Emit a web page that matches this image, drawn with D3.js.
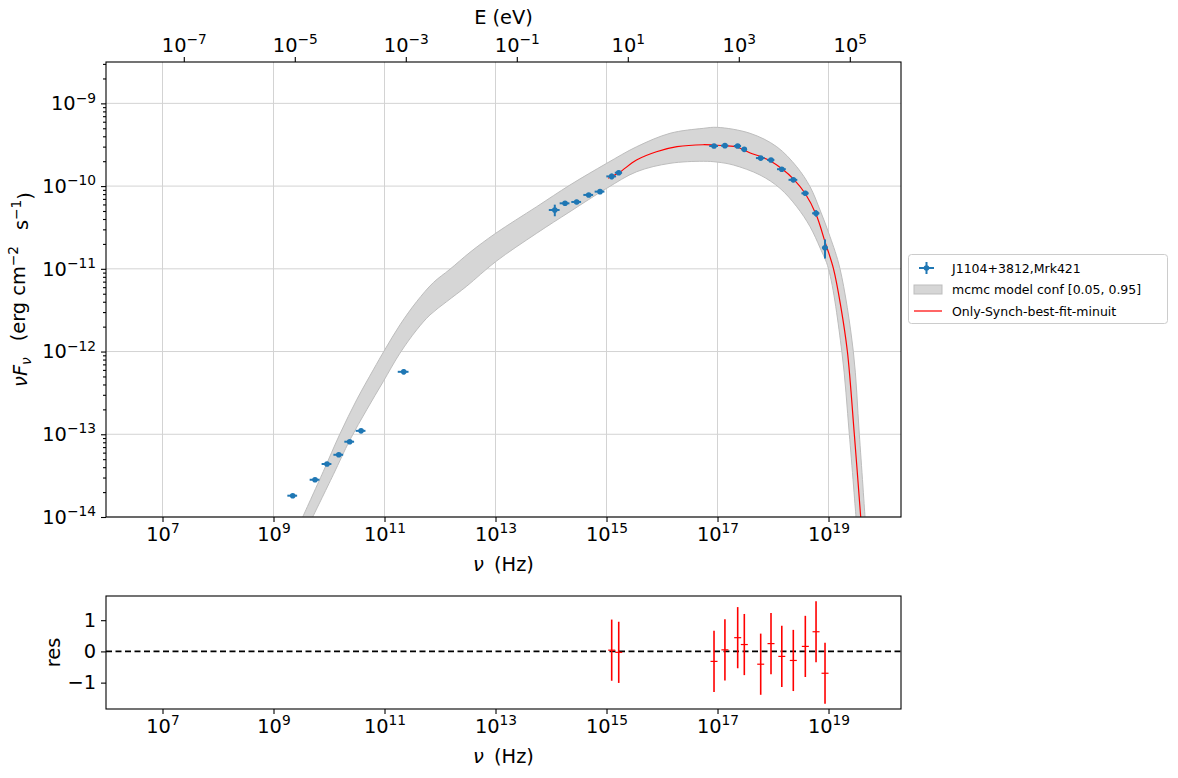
<!DOCTYPE html>
<html><head><meta charset="utf-8">
<script src="https://cdn.jsdelivr.net/npm/d3@7"></script>
<style>body{margin:0;background:#fff} text{font-family:"DejaVu Sans",sans-serif}</style>
</head><body>
<svg id="c" width="1178" height="778"></svg>
<script>
// ---------- data ----------
const dataNu   = [2.22e9,5.60e9,9.20e9,1.50e10,2.36e10,3.78e10,2.22e11,
                  1.17e14,1.79e14,2.90e14,4.78e14,7.64e14,1.24e15,1.66e15,
                  8.65e16,1.36e17,2.31e17,3.04e17,6.00e17,9.20e17,1.44e18,2.32e18,3.82e18,5.96e18,8.65e18];
const dataFlux = [1.81e-14,2.82e-14,4.37e-14,5.65e-14,8.13e-14,1.10e-13,5.69e-13,
                  5.14e-11,6.19e-11,6.43e-11,7.82e-11,8.57e-11,1.31e-10,1.45e-10,
                  3.05e-10,3.08e-10,3.05e-10,2.78e-10,2.18e-10,2.07e-10,1.60e-10,1.19e-10,8.18e-11,4.69e-11,1.80e-11];
const dataNuErrFrac   = [0.2,0.2,0.2,0.2,0.2,0.2,0.22,
                         0.22,0.2,0.2,0.2,0.2,0.2,0.15,
                         0.18,0.15,0.15,0.12,0.18,0.15,0.18,0.18,0.15,0.15,0.12];
const dataFluxErrFrac = [0.05,0.05,0.05,0.05,0.05,0.05,0.07,
                         0.16,0.06,0.06,0.05,0.05,0.08,0.06,
                         0.04,0.05,0.04,0.04,0.05,0.05,0.05,0.06,0.07,0.09,0.26];

// best-fit model (log10 nu, log10 nuFnu)
const modelLogNu = [15.03,15.22,15.54,15.90,16.27,16.74,16.94,17.14,17.36,17.48,17.59,17.78,17.96,18.16,18.37,18.58,18.78,18.94,19.09,19.22,19.34,19.465,19.58];
const modelLogF  = [-9.906,-9.84,-9.685,-9.585,-9.524,-9.500,-9.505,-9.512,-9.53,-9.565,-9.60,-9.645,-9.70,-9.79,-9.915,-10.09,-10.35,-10.68,-11.0,-11.45,-12.0,-13.0,-14.0];

// mcmc confidence band edges
const bandUpLogNu = [9.526,9.897,10.198,10.499,10.798,11.004,11.279,11.580,11.879,12.180,12.541,13.004,13.742,14.342,15.003,15.544,16.144,16.744,16.997,17.586,18.067,18.427,18.667,18.847,19.027,19.207,19.447,19.555,19.658];
const bandUpLogF  = [-14.0,-13.45,-12.994,-12.583,-12.221,-11.98,-11.677,-11.396,-11.167,-11.005,-10.80,-10.57,-10.249,-9.987,-9.725,-9.524,-9.362,-9.302,-9.29,-9.362,-9.524,-9.766,-10.007,-10.289,-10.611,-11.0,-12.0,-13.0,-14.0];
const bandLoLogNu = [9.706,10.077,10.378,10.679,10.978,11.279,11.580,11.820,12.121,12.481,13.004,13.742,14.342,15.003,15.544,16.144,16.744,16.997,17.285,17.766,18.126,18.427,18.667,18.85,19.0,19.24,19.375,19.495];
const bandLoLogF  = [-14.0,-13.489,-13.067,-12.704,-12.362,-12.019,-11.738,-11.557,-11.396,-11.21,-10.913,-10.57,-10.309,-10.027,-9.826,-9.725,-9.70,-9.71,-9.745,-9.866,-10.027,-10.249,-10.49,-10.75,-11.0,-12.0,-13.0,-14.0];

// residuals
const resNu  = [1.24e15,1.66e15,8.65e16,1.36e17,2.31e17,3.04e17,6.00e17,9.20e17,1.44e18,2.32e18,3.82e18,5.96e18,8.65e18];
const resVal = [0.04,-0.03,-0.32,0.05,0.44,0.22,-0.41,0.25,-0.16,-0.29,0.16,0.63,-0.70];
const resErr = [0.98,0.98,0.98,0.98,0.98,0.98,0.98,0.98,0.98,0.98,0.98,0.98,0.98];

const nuTicks = [1e7,1e9,1e11,1e13,1e15,1e17,1e19];
const eTicks  = [1e-7,1e-5,1e-3,1e-1,1e1,1e3,1e5];
const fluxTicks = [1e-14,1e-13,1e-12,1e-11,1e-10,1e-9];
const resTicks = [-1,0,1];
const legendLabels = ["J1104+3812,Mrk421","mcmc model conf [0.05, 0.95]","Only-Synch-best-fit-minuit"];
const hPlanck = 4.135667e-15; // eV s

// ---------- layout ----------
const L = 106, R = 901, T = 62, B = 517;
const RT = 596, RB = 709;
const FS = 19.4;
const blue = "#1f77b4";

const svg = d3.select("#c");
const x = d3.scaleLog().domain([Math.pow(10,5.982), Math.pow(10,20.306)]).range([L,R]);
const xE = d3.scaleLog().domain(x.domain().map(v => v*hPlanck)).range([L,R]);
const y = d3.scaleLog().domain([1e-14, Math.pow(10,-8.5)]).range([B,T]);
const yr = d3.scaleLinear().domain([-1.845,1.775]).range([RB,RT]);

function supLabel(sel, v) {
  const e = Math.round(Math.log10(v));
  sel.text(null);
  sel.append("tspan").text("10");
  sel.append("tspan").attr("dy","-0.55em").attr("font-size","0.71em").text(String(e).replace("-","\u2212"));
}

svg.append("defs").append("clipPath").attr("id","clipMain")
  .append("rect").attr("x",L).attr("y",T).attr("width",R-L).attr("height",B-T);

// grid
const grid = svg.append("g");
nuTicks.forEach(v => grid.append("line").attr("x1",x(v)).attr("x2",x(v)).attr("y1",T).attr("y2",B)
  .attr("stroke","#d3d3d3").attr("stroke-width",1));
fluxTicks.forEach(v => grid.append("line").attr("x1",L).attr("x2",R).attr("y1",y(v)).attr("y2",y(v))
  .attr("stroke","#d3d3d3").attr("stroke-width",1));

const main = svg.append("g").attr("clip-path","url(#clipMain)");

// band
const up = bandUpLogNu.map((v,i)=>[x(Math.pow(10,v)), y(Math.pow(10,bandUpLogF[i]))]);
const lo = bandLoLogNu.map((v,i)=>[x(Math.pow(10,v)), y(Math.pow(10,bandLoLogF[i]))]);
const lineGen = d3.line().curve(d3.curveCatmullRom.alpha(0.5));
main.append("path").attr("d", lineGen(up) + "L" + lineGen(lo.slice().reverse()).slice(1) + "Z")
  .attr("fill","#d6d6d6").attr("stroke","none");
main.append("path").attr("d", lineGen(up)).attr("fill","none").attr("stroke","#bdbdbd").attr("stroke-width",1);
main.append("path").attr("d", lineGen(lo)).attr("fill","none").attr("stroke","#bdbdbd").attr("stroke-width",1);

// model
const mpts = modelLogNu.map((v,i)=>[x(Math.pow(10,v)), y(Math.pow(10,modelLogF[i]))]);
main.append("path").attr("d", lineGen(mpts)).attr("fill","none").attr("stroke","red").attr("stroke-width",1.2);

// data
const dg = main.append("g");
dataNu.forEach((nu,i) => {
  const F = dataFlux[i], xe = dataNuErrFrac[i], ye = dataFluxErrFrac[i];
  dg.append("line").attr("x1",x(nu*(1-xe))).attr("x2",x(nu*(1+xe))).attr("y1",y(F)).attr("y2",y(F))
    .attr("stroke",blue).attr("stroke-width",2);
  dg.append("line").attr("x1",x(nu)).attr("x2",x(nu)).attr("y1",y(F*(1-ye))).attr("y2",y(F*(1+ye)))
    .attr("stroke",blue).attr("stroke-width",2);
  dg.append("circle").attr("cx",x(nu)).attr("cy",y(F)).attr("r",2.8).attr("fill",blue);
});

// frame
svg.append("rect").attr("x",L).attr("y",T).attr("width",R-L).attr("height",B-T)
  .attr("fill","none").attr("stroke","#000").attr("stroke-width",1.1);

// axes main
const axB = svg.append("g").attr("transform",`translate(0,${B})`)
  .call(d3.axisBottom(x).tickValues(nuTicks).tickSize(5).tickPadding(5));
const axT = svg.append("g").attr("transform",`translate(0,${T})`)
  .call(d3.axisTop(xE).tickValues(eTicks).tickSize(5).tickPadding(5));
const minorF = [];
for (let e=-14; e<=-9; e++) for (let m=2; m<=9; m++) { const v = m*Math.pow(10,e); if (v<=y.domain()[1]) minorF.push(v); }
const axL = svg.append("g").attr("transform",`translate(${L},0)`)
  .call(d3.axisLeft(y).tickValues(fluxTicks).tickSize(5).tickPadding(5));
svg.append("g").attr("transform",`translate(${L},0)`)
  .call(d3.axisLeft(y).tickValues(minorF).tickSize(3).tickFormat(""))
  .call(g=>g.select(".domain").remove());
[axB,axT,axL].forEach(g => {
  g.select(".domain").remove();
  g.selectAll("line").attr("stroke","#000").attr("stroke-width",1.1);
  g.selectAll("text").attr("font-size",FS).attr("fill","#000").attr("font-family","DejaVu Sans").each(function(d){ supLabel(d3.select(this), d); });
});
svg.selectAll(".tick line").attr("stroke","#000");

// axis labels main
svg.append("text").attr("x",(L+R)/2).attr("y",18).attr("text-anchor","middle").attr("dominant-baseline","middle")
  .attr("font-size",FS).text("E (eV)");
function nuLabel(yy) {
  const t = svg.append("text").attr("x",(L+R)/2).attr("y",yy).attr("text-anchor","middle").attr("font-size",FS);
  t.append("tspan").attr("font-style","italic").text("\u03BD");
  t.append("tspan").text("\u2009 (Hz)");
}
nuLabel(571);
const yl = svg.append("text").attr("transform",`translate(27,${(T+B)/2}) rotate(-90)`).attr("text-anchor","middle").attr("font-size",FS);
yl.append("tspan").attr("font-style","italic").text("\u03BDF");
yl.append("tspan").attr("font-style","italic").attr("font-size","0.71em").attr("dy","0.3em").text("\u03BD");
yl.append("tspan").attr("dy","-0.3em").text("\u2002 (erg cm");
yl.append("tspan").attr("font-size","0.71em").attr("dy","-0.55em").text("\u22122");
yl.append("tspan").attr("dy","0.55em").text("\u2002 s");
yl.append("tspan").attr("font-size","0.71em").attr("dy","-0.55em").text("\u22121");
yl.append("tspan").attr("dy","0.55em").text(")");

// ---------- residual panel ----------
svg.append("line").attr("x1",L).attr("x2",R).attr("y1",yr(0)).attr("y2",yr(0))
  .attr("stroke","#000").attr("stroke-width",1.6).attr("stroke-dasharray","6,3.5");
const rg = svg.append("g");
resNu.forEach((nu,i) => {
  const v = resVal[i], e = resErr[i];
  rg.append("line").attr("x1",x(nu)).attr("x2",x(nu)).attr("y1",yr(v-e)).attr("y2",yr(v+e))
    .attr("stroke","red").attr("stroke-width",1.6);
  rg.append("line").attr("x1",x(nu)-3.5).attr("x2",x(nu)+3.5).attr("y1",yr(v)).attr("y2",yr(v))
    .attr("stroke","red").attr("stroke-width",1.2);
});
svg.append("rect").attr("x",L).attr("y",RT).attr("width",R-L).attr("height",RB-RT)
  .attr("fill","none").attr("stroke","#000").attr("stroke-width",1.1);
const rB = svg.append("g").attr("transform",`translate(0,${RB})`)
  .call(d3.axisBottom(x).tickValues(nuTicks).tickSize(5).tickPadding(5));
rB.select(".domain").remove();
rB.selectAll("text").attr("font-size",FS).attr("fill","#000").each(function(d){ supLabel(d3.select(this), d); });
const rL = svg.append("g").attr("transform",`translate(${L},0)`)
  .call(d3.axisLeft(yr).tickValues(resTicks).tickSize(5).tickPadding(5).tickFormat(d=>String(d).replace("-","\u2212")));
rL.select(".domain").remove();
rL.selectAll("text").attr("font-size",FS).attr("fill","#000");
svg.selectAll(".tick line").attr("stroke","#000").attr("stroke-width",1.1);
nuLabel(763);
svg.append("text").attr("transform",`translate(60,${(RT+RB)/2}) rotate(-90)`).attr("text-anchor","middle")
  .attr("font-size",FS).text("res");

// ---------- legend ----------
const lg = svg.append("g");
lg.append("rect").attr("x",908.5).attr("y",254.5).attr("width",259).attr("height",69).attr("rx",3)
  .attr("fill","#fff").attr("stroke","#cccccc").attr("stroke-width",1);
const lfs = 12.5, lx = 914, rowY = [268, 289.5, 311];
lg.append("line").attr("x1",lx+5).attr("x2",lx+20).attr("y1",rowY[0]).attr("y2",rowY[0]).attr("stroke",blue).attr("stroke-width",2);
lg.append("line").attr("x1",lx+12.5).attr("x2",lx+12.5).attr("y1",rowY[0]-6).attr("y2",rowY[0]+6).attr("stroke",blue).attr("stroke-width",2);
lg.append("circle").attr("cx",lx+12.5).attr("cy",rowY[0]).attr("r",2.8).attr("fill",blue);
lg.append("rect").attr("x",lx).attr("y",rowY[1]-4.5).attr("width",28).attr("height",9).attr("fill","#d6d6d6").attr("stroke","#bdbdbd");
lg.append("line").attr("x1",lx).attr("x2",lx+28).attr("y1",rowY[2]).attr("y2",rowY[2]).attr("stroke","red").attr("stroke-width",1.2);
legendLabels.forEach((s,i) => lg.append("text").attr("x",952).attr("y",rowY[i]).attr("dominant-baseline","central")
  .attr("font-size",lfs).text(s));
</script>
</body></html>
